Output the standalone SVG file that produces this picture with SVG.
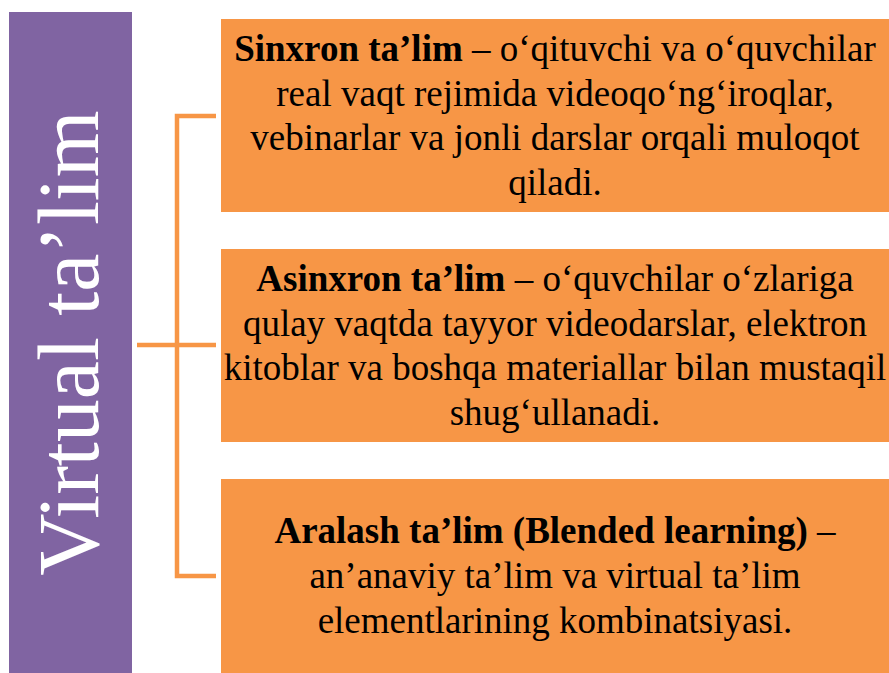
<svg xmlns="http://www.w3.org/2000/svg" width="889" height="673" viewBox="0 0 889 673">
<style>
.box{fill:#F79646;}
.t{font-size:37px;fill:#000;text-anchor:middle;}
.b{font-weight:bold;}
.con{stroke:#F79646;stroke-width:4.5;fill:none;}
</style>
<rect width="889" height="673" fill="#fff"/>
<g id="main">
<rect x="9" y="12" width="123" height="661" fill="#8064A2"/>
<text transform="translate(98,343) rotate(-90)" text-anchor="middle" font-family="'Liberation Serif','Times New Roman',serif" font-size="86" fill="#fff">Virtual ta’lim</text>
</g>
<g id="connectors">
<path class="con" d="M216,116 H177 V576 H216"/>
<path class="con" d="M137,345 H216"/>
</g>
<g id="sinxron" font-family="'Liberation Serif','Times New Roman',serif">
<rect class="box" x="221" y="19" width="670" height="193"/>
<text class="t" x="555" y="61"><tspan class="b">Sinxron ta’lim</tspan> – o‘qituvchi va o‘quvchilar</text>
<text class="t" x="555" y="105.5">real vaqt rejimida videoqo‘ng‘iroqlar,</text>
<text class="t" x="555" y="150">vebinarlar va jonli darslar orqali muloqot</text>
<text class="t" x="555" y="194.5">qiladi.</text>
</g>
<g id="asinxron" font-family="'Liberation Serif','Times New Roman',serif">
<rect class="box" x="221" y="249" width="670" height="193"/>
<text class="t" x="555" y="291"><tspan class="b">Asinxron ta’lim</tspan> – o‘quvchilar o‘zlariga</text>
<text class="t" x="555" y="335.5">qulay vaqtda tayyor videodarslar, elektron</text>
<text class="t" x="555" y="380">kitoblar va boshqa materiallar bilan mustaqil</text>
<text class="t" x="555" y="424.5">shug‘ullanadi.</text>
</g>
<g id="aralash" font-family="'Liberation Serif','Times New Roman',serif">
<rect class="box" x="221" y="479" width="670" height="194"/>
<text class="t" x="555" y="543"><tspan class="b">Aralash ta’lim (Blended learning)</tspan> –</text>
<text class="t" x="555" y="588">an’anaviy ta’lim va virtual ta’lim</text>
<text class="t" x="555" y="633">elementlarining kombinatsiyasi.</text>
</g>
</svg>
